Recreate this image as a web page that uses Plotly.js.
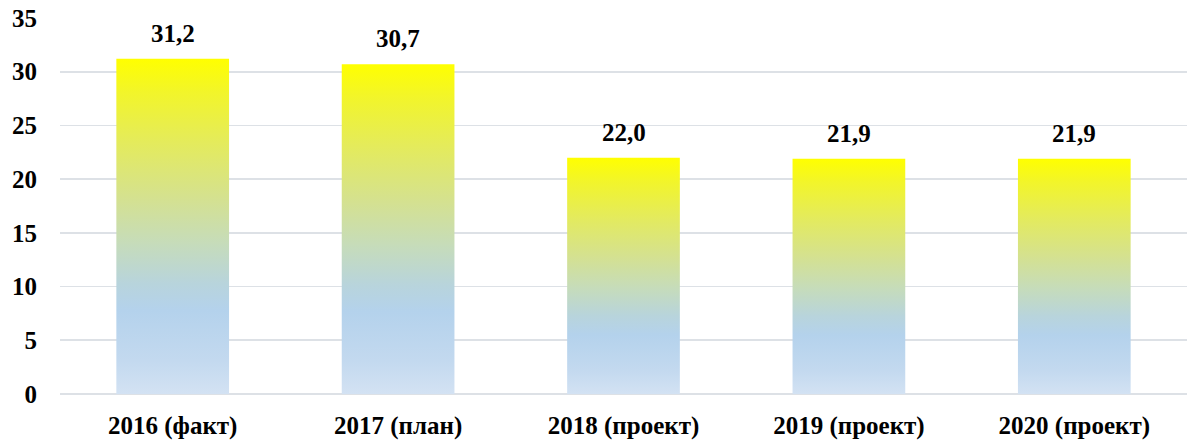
<!DOCTYPE html>
<html>
<head>
<meta charset="utf-8">
<script src="https://cdn.plot.ly/plotly-3.0.1.min.js"></script>
<style>
  html, body { margin: 0; padding: 0; background: #fff; overflow: hidden; }
  #plot { width: 1187px; height: 444px; }
</style>
</head>
<body>
<div id="plot"></div>
<script>
// categories and values
var years = ["2016 (факт)", "2017 (план)", "2018 (проект)", "2019 (проект)", "2020 (проект)"];
var amounts = [31.2, 30.7, 22.0, 21.9, 21.9];
var yTicks = [0, 5, 10, 15, 20, 25, 30, 35];

var serif = "'Liberation Serif', 'Times New Roman', serif";
var fs = 25;

var trace = {
  x: years,
  y: amounts,
  type: "bar",
  marker: { color: "#B4D2EC", line: { width: 0 } },
  hoverinfo: "none"
};

// value labels above each bar, decimal comma
var notes = years.map(function (c, i) {
  return {
    x: c,
    y: amounts[i],
    text: amounts[i].toFixed(1).replace(".", ","),
    showarrow: false,
    yanchor: "bottom",
    yshift: 10,
    font: { family: serif, size: fs, color: "#000", weight: "bold" }
  };
});

var layout = {
  width: 1187,
  height: 444,
  margin: { l: 60, r: 0, t: 18, b: 50 },
  paper_bgcolor: "#fff",
  plot_bgcolor: "#fff",
  showlegend: false,
  bargap: 0.5,
  font: { family: serif, size: fs, color: "#000" },
  xaxis: {
    type: "category",
    tickfont: { family: serif, size: fs, color: "#000", weight: "bold" },
    ticklabelstandoff: 14,
    showgrid: false,
    showline: false
  },
  yaxis: {
    range: [0, 35],
    tickvals: yTicks,
    ticktext: yTicks.map(String),
    tickfont: { family: serif, size: fs, color: "#000", weight: "bold" },
    ticklabelstandoff: 22,
    showgrid: true,
    gridcolor: "#DDE1E6",
    gridwidth: 1.6,
    zeroline: true,
    zerolinecolor: "#DDE1E6",
    zerolinewidth: 2,
    showline: false
  },
  annotations: notes
};

Plotly.newPlot("plot", [trace], layout, { staticPlot: true }).then(function (gd) {
  // vertical gradient fill for the bars (light blue bottom -> yellow top)
  var ns = "http://www.w3.org/2000/svg";
  var svg = gd.querySelector("svg.main-svg");
  var defs = svg.querySelector("defs") || svg.insertBefore(document.createElementNS(ns, "defs"), svg.firstChild);
  var grad = document.createElementNS(ns, "linearGradient");
  grad.setAttribute("id", "barGrad");
  grad.setAttribute("x1", "0"); grad.setAttribute("y1", "1");
  grad.setAttribute("x2", "0"); grad.setAttribute("y2", "0");
  var stops = [
    [0, "#D3E2F3"], [0.1, "#C3D9EF"], [0.25, "#B4D2EC"], [0.33, "#B8D4DC"],
    [0.45, "#C6DCBA"], [0.58, "#D4E191"], [0.75, "#E4EB5C"], [0.9, "#F2F52A"], [1, "#FFFF00"]
  ];
  stops.forEach(function (s) {
    var st = document.createElementNS(ns, "stop");
    st.setAttribute("offset", s[0]);
    st.setAttribute("stop-color", s[1]);
    grad.appendChild(st);
  });
  defs.appendChild(grad);
  gd.querySelectorAll(".barlayer .point path").forEach(function (p) {
    p.style.fill = "url(#barGrad)";
  });
});
</script>
</body>
</html>
